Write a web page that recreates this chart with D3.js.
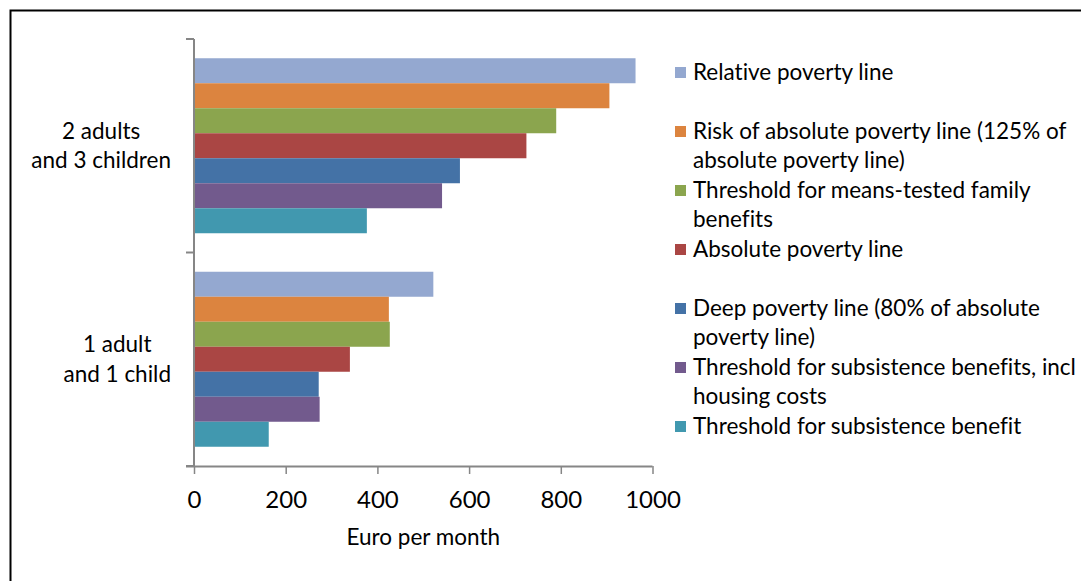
<!DOCTYPE html>
<html>
<head>
<meta charset="utf-8">
<script src="https://cdn.jsdelivr.net/npm/d3@7"></script>
<style>
  html, body { margin: 0; padding: 0; background: #fff; }
  svg { display: block; }
  text { font-family: Lato, "Open Sans", sans-serif; fill: #000; font-variant-ligatures: none; }
</style>
</head>
<body>
<svg id="chart" width="1081" height="581"></svg>
<script>
// Household types, drawn top to bottom
const categories = ["2 adults and 3 children", "1 adult and 1 child"];
const categoryLines = [["2 adults", "and 3 children"], ["1 adult", "and 1 child"]];

// Poverty lines and benefit thresholds (euro per month)
const seriesNames = [
  "Relative poverty line",
  "Risk of absolute poverty line (125% of absolute poverty line)",
  "Threshold for means-tested family benefits",
  "Absolute poverty line",
  "Deep poverty line (80% of absolute poverty line)",
  "Threshold for subsistence benefits, incl housing costs",
  "Threshold for subsistence benefit"
];
const legendLines = [
  ["Relative poverty line"],
  ["Risk of absolute poverty line (125% of", "absolute poverty line)"],
  ["Threshold for means-tested family", "benefits"],
  ["Absolute poverty line"],
  ["Deep poverty line (80% of absolute", "poverty line)"],
  ["Threshold for subsistence benefits, incl", "housing costs"],
  ["Threshold for subsistence benefit"]
];
const seriesColors = ["#94a8d0", "#dc843f", "#8ba54e", "#aa4644", "#4472a6", "#725a8d", "#4198af"];

// values[series][category]
const values = [
  [963, 522],
  [906, 425],
  [790, 427],
  [725, 340],
  [580, 272],
  [541, 274],
  [377, 163]
];

const xTicks = [0, 200, 400, 600, 800, 1000];
const axisTitle = "Euro per month";

const svg = d3.select("#chart");
const axisColor = "#868686";

// outer frame
svg.append("rect")
  .attr("x", 10.5).attr("y", 10.5)
  .attr("width", 1100).attr("height", 600)
  .attr("fill", "#fff").attr("stroke", "#000").attr("stroke-width", 2);

const x = d3.scaleLinear().domain([0, 1000]).range([194, 652.5]);
const y0 = d3.scaleBand().domain(categories).range([39, 466]).padding(0);
const y1 = d3.scaleBand().domain(d3.range(seriesNames.length))
  .range([0, y0.bandwidth()]).paddingInner(0).paddingOuter(0.77);

// bars
const groups = svg.append("g").selectAll("g")
  .data(categories)
  .join("g")
  .attr("transform", d => `translate(0,${y0(d)})`);

groups.selectAll("rect")
  .data((c, ci) => values.map((v, si) => ({ si, v: v[ci] })))
  .join("rect")
  .attr("x", x(0) + 1)
  .attr("y", d => y1(d.si))
  .attr("width", d => x(d.v) - x(0) - 1)
  .attr("height", y1.bandwidth())
  .attr("fill", d => seriesColors[d.si]);

// x axis
const xAxis = svg.append("g")
  .attr("transform", `translate(0,${y0.range()[1]})`)
  .call(d3.axisBottom(x).tickValues(xTicks).tickSize(8).tickPadding(18).tickFormat(d3.format("d")));
xAxis.select(".domain").attr("stroke", axisColor).attr("stroke-width", 2)
  .attr("d", `M${x(0) - 8},0.5H${x(1000)}`);
xAxis.selectAll(".tick line").attr("stroke", axisColor).attr("stroke-width", 1.5);
xAxis.selectAll(".tick text")
  .attr("font-size", 24).attr("fill", "#000")
  .attr("dy", null).attr("y", 42);

// y axis: line plus ticks at category boundaries
const yAxis = svg.append("g");
yAxis.append("line")
  .attr("x1", x(0)).attr("x2", x(0))
  .attr("y1", y0.range()[0]).attr("y2", y0.range()[1])
  .attr("stroke", axisColor).attr("stroke-width", 2);
const boundaries = categories.map(c => y0(c)).concat([y0.range()[1]]);
yAxis.selectAll(".yt").data(boundaries).join("line")
  .attr("class", "yt")
  .attr("x1", x(0) - 8).attr("x2", x(0))
  .attr("y1", d => d).attr("y2", d => d)
  .attr("stroke", axisColor).attr("stroke-width", 2);

// category labels: each block right-aligned, lines centred within the block
const labelRight = 171;
categories.forEach((c, ci) => {
  const g = svg.append("g");
  const lines = categoryLines[ci];
  const cy = y0(c) + y0.bandwidth() / 2;
  const texts = g.selectAll("text").data(lines).join("text")
    .attr("font-size", 22.5)
    .attr("text-anchor", "middle")
    .attr("y", (d, k) => cy + (k - (lines.length - 1) / 2) * 29.5 + 7.5)
    .text(d => d);
  const w = d3.max(texts.nodes(), n => n.getComputedTextLength());
  texts.attr("x", labelRight - w / 2);
});

// axis title
svg.append("text")
  .attr("x", (x(0) + x(1000)) / 2).attr("y", 545)
  .attr("text-anchor", "middle")
  .attr("font-size", 22.5)
  .text(axisTitle);

// legend
const legend = svg.append("g").selectAll("g")
  .data(seriesNames)
  .join("g")
  .attr("transform", (d, i) => `translate(675,${80 + 59 * i})`);
legend.append("rect")
  .attr("x", 0).attr("y", -13)
  .attr("width", 11).attr("height", 11)
  .attr("fill", (d, i) => seriesColors[i]);
legend.append("text")
  .attr("font-size", 22.5)
  .selectAll("tspan")
  .data((d, i) => legendLines[i])
  .join("tspan")
  .attr("x", 18)
  .attr("y", (d, k) => k * 29)
  .text(d => d);
</script>
</body>
</html>
